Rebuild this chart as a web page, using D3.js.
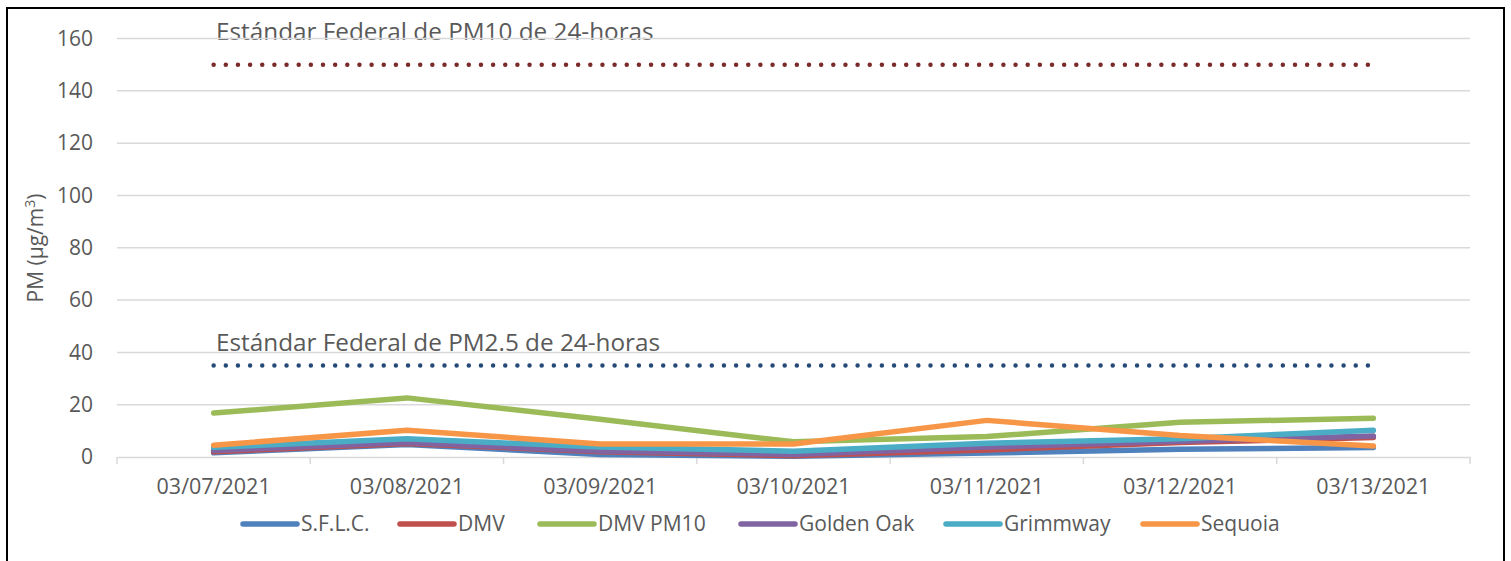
<!DOCTYPE html>
<html>
<head>
<meta charset="utf-8">
<script src="https://cdn.jsdelivr.net/npm/d3@7"></script>
<style>
  body { margin: 0; background: #fff; }
  text { font-family: "Open Sans", "Noto Sans", sans-serif; fill: #595959; }
</style>
</head>
<body>
<script>
let w = 1511;
let h = 561;

var dates = ["03/07/2021", "03/08/2021", "03/09/2021", "03/10/2021", "03/11/2021", "03/12/2021", "03/13/2021"];
var seriesNames = ["S.F.L.C.", "DMV", "DMV PM10", "Golden Oak", "Grimmway", "Sequoia"];
var sflc = [1.6, 4.8, 1.0, 0.3, 1.5, 3.0, 3.6];
var dmv = [2.0, 5.2, 2.0, 0.5, 2.7, 5.5, 7.5];
var dmvPm10 = [16.8, 22.6, 14.4, 5.8, 7.8, 13.3, 14.8];
var goldenOak = [2.5, 5.5, 2.3, 1.0, 3.8, 6.0, 8.0];
var grimmway = [3.7, 7.0, 3.8, 2.2, 5.3, 7.0, 10.2];
var sequoia = [4.5, 10.2, 5.0, 5.0, 14.0, 8.2, 4.2];
var yTicks = [0, 20, 40, 60, 80, 100, 120, 140, 160];
var pm10Std = 150;
var pm25Std = 35;

var colors = ["#4F81BD", "#C0504D", "#9BBB59", "#8064A2", "#4BACC6", "#F79646"];
var allSeries = [sflc, dmv, dmvPm10, goldenOak, grimmway, sequoia];

var plotLeft = 117, plotRight = 1470, plotTop = 38.5, plotBottom = 457;

var svg = d3.select("body").append("svg")
    .attr("width", w)
    .attr("height", h);

// frame
svg.append("rect")
    .attr("x", 7).attr("y", 8)
    .attr("width", 1497).attr("height", 600)
    .attr("fill", "none").attr("stroke", "#000").attr("stroke-width", 2);

var x = d3.scaleBand().domain(dates).range([plotLeft, plotRight]);
var y = d3.scaleLinear().domain([0, 160]).range([plotBottom, plotTop]);

// standard labels (under the gridlines)
svg.append("text")
    .attr("x", 216).attr("y", 40)
    .style("font-size", "24.3px")
    .text("Estándar Federal de PM10 de 24-horas");
svg.append("text")
    .attr("x", 216).attr("y", 351)
    .style("font-size", "24.3px")
    .text("Estándar Federal de PM2.5 de 24-horas");

// gridlines
svg.selectAll(".grid").data(yTicks.slice(1)).enter().append("line")
    .attr("x1", plotLeft).attr("x2", plotRight)
    .attr("y1", d => y(d)).attr("y2", d => y(d))
    .attr("stroke", "#d9d9d9").attr("stroke-width", 1.5);

// y labels
svg.selectAll(".ylab").data(yTicks).enter().append("text")
    .attr("x", 93).attr("y", d => y(d))
    .attr("dy", "0.35em")
    .attr("text-anchor", "end")
    .style("font-size", "21px")
    .text(d => d);

// x axis
var xAxis = svg.append("g")
    .attr("transform", `translate(0,${plotBottom})`)
    .call(d3.axisBottom(x).tickSize(0).tickPadding(22));
xAxis.select(".domain").attr("stroke", "#d9d9d9").attr("stroke-width", 1.5);
xAxis.selectAll("text").style("font-size", "21.5px").attr("fill", "#595959")
    .style("font-family", '"Open Sans", "Noto Sans", sans-serif');

var bounds = dates.map(d => x(d)).concat([plotRight]);
svg.selectAll(".xtick").data(bounds).enter().append("line")
    .attr("x1", d => d).attr("x2", d => d)
    .attr("y1", plotBottom).attr("y2", plotBottom + 7)
    .attr("stroke", "#d9d9d9").attr("stroke-width", 1.5);

// axis title
svg.append("text")
    .attr("transform", "translate(43,248) rotate(-90)")
    .attr("text-anchor", "middle")
    .style("font-size", "21px")
    .html('PM (µg/m<tspan dy="-8" style="font-size:14px">3</tspan><tspan dy="8">)</tspan>');

// standards, dotted
var cx = d => x(d) + x.bandwidth() / 2;
var stdLine = (v, color) => {
    svg.append("line")
        .attr("x1", cx(dates[0])).attr("x2", cx(dates[dates.length - 1]))
        .attr("y1", y(v)).attr("y2", y(v))
        .attr("stroke", color)
        .attr("stroke-width", 4.5)
        .attr("stroke-linecap", "round")
        .attr("stroke-dasharray", "0 12.15");
};
stdLine(pm10Std, "#7B2A2A");
stdLine(pm25Std, "#254A78");

// series lines
var line = d3.line()
    .x((d, i) => cx(dates[i]))
    .y(d => y(d));

svg.selectAll(".series").data(allSeries).enter().append("path")
    .attr("d", d => line(d))
    .attr("fill", "none")
    .attr("stroke", (d, i) => colors[i])
    .attr("stroke-width", 5.5)
    .attr("stroke-linejoin", "round")
    .attr("stroke-linecap", "round");

// legend
var legendX = [243, 400, 540, 741, 946, 1143];
var lg = svg.selectAll(".leg").data(seriesNames).enter().append("g")
    .attr("transform", (d, i) => `translate(${legendX[i]},524)`);
lg.append("line")
    .attr("x1", 0).attr("x2", 54)
    .attr("stroke", (d, i) => colors[i])
    .attr("stroke-width", 5.5)
    .attr("stroke-linecap", "round");
lg.append("text")
    .attr("x", 58).attr("dy", "0.35em")
    .style("font-size", "21px")
    .text(d => d);
</script>
</body>
</html>
